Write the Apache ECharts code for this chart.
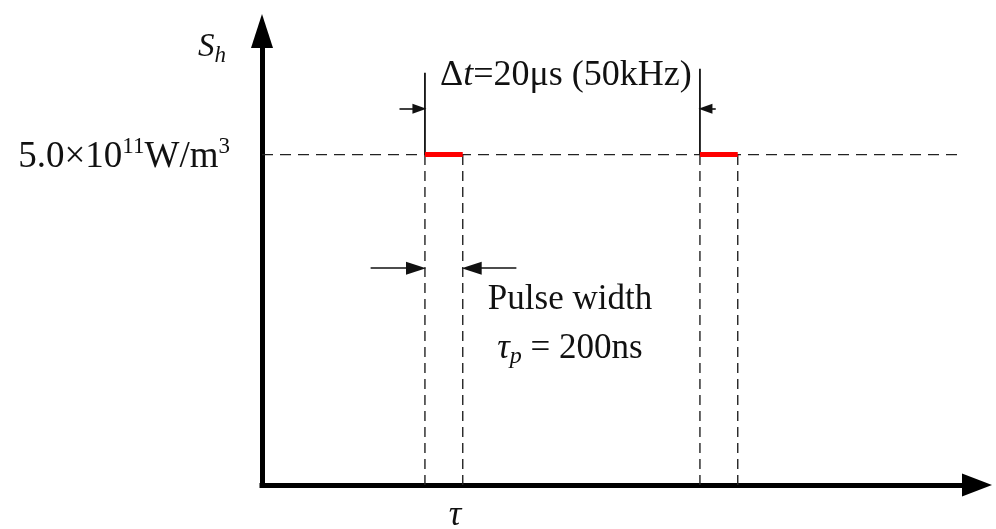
<!DOCTYPE html>
<html>
<head>
<meta charset="utf-8">
<script src="https://cdn.jsdelivr.net/npm/echarts@6/dist/echarts.min.js"></script>
<style>html,body{margin:0;padding:0;background:#fff}#c{width:996px;height:529px}</style>
</head>
<body>
<div id="c"></div>
<script>
// ---- data (schematic units: x in µs, y in 1e11 W/m^3) ----
const xMax = 52.0;
const yMax = 6.87;
const amplitude = 5.0;
const baselineEnd = 50.76;
const pulseStart = [11.85, 31.85];
const pulseEnd = [14.6, 34.6];
const markerTop = [6.24, 6.30];
const periodArrowY = 5.695;
const widthArrowY = 3.28;
const periodArrows = [[10.0, 11.45], [33.0, 32.25]];
const widthArrows = [[7.9, 11.2], [18.5, 15.25]];
const yLabelValue = 5;

const serif = "'Liberation Serif','Times New Roman',serif";

const series = [];
// dashed baseline at amplitude
series.push({type:'line', data:[[0, amplitude],[baselineEnd, amplitude]], symbol:'none', silent:true,
  lineStyle:{color:'#222', width:1.4, type:[11,7]}, z:2});
// vertical dashed lines at pulse edges
[...pulseStart, ...pulseEnd].forEach(x => {
  series.push({type:'line', data:[[x,0],[x,amplitude]], symbol:'none', silent:true,
    lineStyle:{color:'#222', width:1.4, type:[10,6]}, z:2});
});
// solid marker lines above pulse starts
pulseStart.forEach((x,i) => {
  series.push({type:'line', data:[[x,amplitude],[x,markerTop[i]]], symbol:'none', silent:true,
    lineStyle:{color:'#111', width:1.8}, z:3});
});
// red pulses
pulseStart.forEach((x,i) => {
  series.push({type:'line', data:[[x,amplitude],[pulseEnd[i],amplitude]], symbol:'none', silent:true,
    lineStyle:{color:'#ff0000', width:5, cap:'butt'}, z:4});
});
// annotation arrows
const periodData = periodArrows.map(a => [{coord:[a[0], periodArrowY]},{coord:[a[1], periodArrowY]}]);
const widthData = widthArrows.map(a => [{coord:[a[0], widthArrowY]},{coord:[a[1], widthArrowY]}]);
series.push({type:'line', data:[], markLine:{silent:true, symbol:['none','triangle'], symbolSize:[10,14],
  label:{show:false}, lineStyle:{color:'#111', width:1.6, type:'solid'}, data:periodData}});
series.push({type:'line', data:[], markLine:{silent:true, symbol:['none','triangle'], symbolSize:[13,20],
  label:{show:false}, lineStyle:{color:'#111', width:1.6, type:'solid'}, data:widthData}});

const chart = echarts.init(document.getElementById('c'), null, {renderer:'canvas'});
chart.setOption({
  backgroundColor:'#fff',
  animation:false,
  grid:{left:262, right:19, top:31, bottom:44},
  xAxis:{type:'value', min:0, max:xMax, splitLine:{show:false}, axisTick:{show:false}, axisLabel:{show:false},
    axisLine:{show:true, onZero:false, symbol:['none','triangle'], symbolSize:[23,30],
      lineStyle:{color:'#000', width:5, cap:'square'}}},
  yAxis:{type:'value', min:0, max:yMax, interval:5, splitLine:{show:false}, axisTick:{show:false},
    axisLine:{show:true, onZero:false, symbol:['none','triangle'], symbolSize:[22,34],
      lineStyle:{color:'#000', width:5}},
    axisLabel:{show:true, margin:32, showMaxLabel:false,
      formatter: v => v === yLabelValue ? '{a|5.0×10}{s|11}{a|W/m}{s|3}' : '',
      rich:{a:{fontFamily:serif, fontSize:37, color:'#111', lineHeight:42, verticalAlign:'bottom'},
            s:{fontFamily:serif, fontSize:23, color:'#111', lineHeight:42, verticalAlign:'top', padding:[2,0,0,0]}}}},
  graphic:[
    {type:'text', x:198, y:46, style:{text:'{i|S}{sub|h}', textVerticalAlign:'middle',
      rich:{i:{fontFamily:serif, fontStyle:'italic', fontSize:33, fill:'#111', lineHeight:36, verticalAlign:'bottom'},
            sub:{fontFamily:serif, fontStyle:'italic', fontSize:23, fill:'#111', lineHeight:36, verticalAlign:'bottom', padding:[0,0,-3,0]}}}},
    {type:'text', x:440, y:76, style:{text:'{a|Δ}{i|t}{a|=20μs (50kHz)}', textVerticalAlign:'middle',
      rich:{a:{fontFamily:serif, fontSize:36, fill:'#111'}, i:{fontFamily:serif, fontStyle:'italic', fontSize:36, fill:'#111'}}}},
    {type:'text', x:570, y:300, style:{text:'Pulse width', fontFamily:serif, fontSize:35, fill:'#111', textAlign:'center', textVerticalAlign:'middle'}},
    {type:'text', x:570, y:346, style:{text:'{i|τ}{sub|p}{a| = 200ns}', textAlign:'center', textVerticalAlign:'middle',
      rich:{a:{fontFamily:serif, fontSize:35, fill:'#111', lineHeight:40, verticalAlign:'bottom'},
            i:{fontFamily:serif, fontStyle:'italic', fontSize:35, fill:'#111', lineHeight:40, verticalAlign:'bottom'},
            sub:{fontFamily:serif, fontStyle:'italic', fontSize:24, fill:'#111', lineHeight:40, verticalAlign:'bottom', padding:[0,0,-3,0]}}}},
    {type:'text', x:455, y:516, style:{text:'τ', fontFamily:serif, fontStyle:'italic', fontSize:35, fill:'#111', textAlign:'center', textVerticalAlign:'middle'}}
  ],
  series: series
});
</script>
</body>
</html>
